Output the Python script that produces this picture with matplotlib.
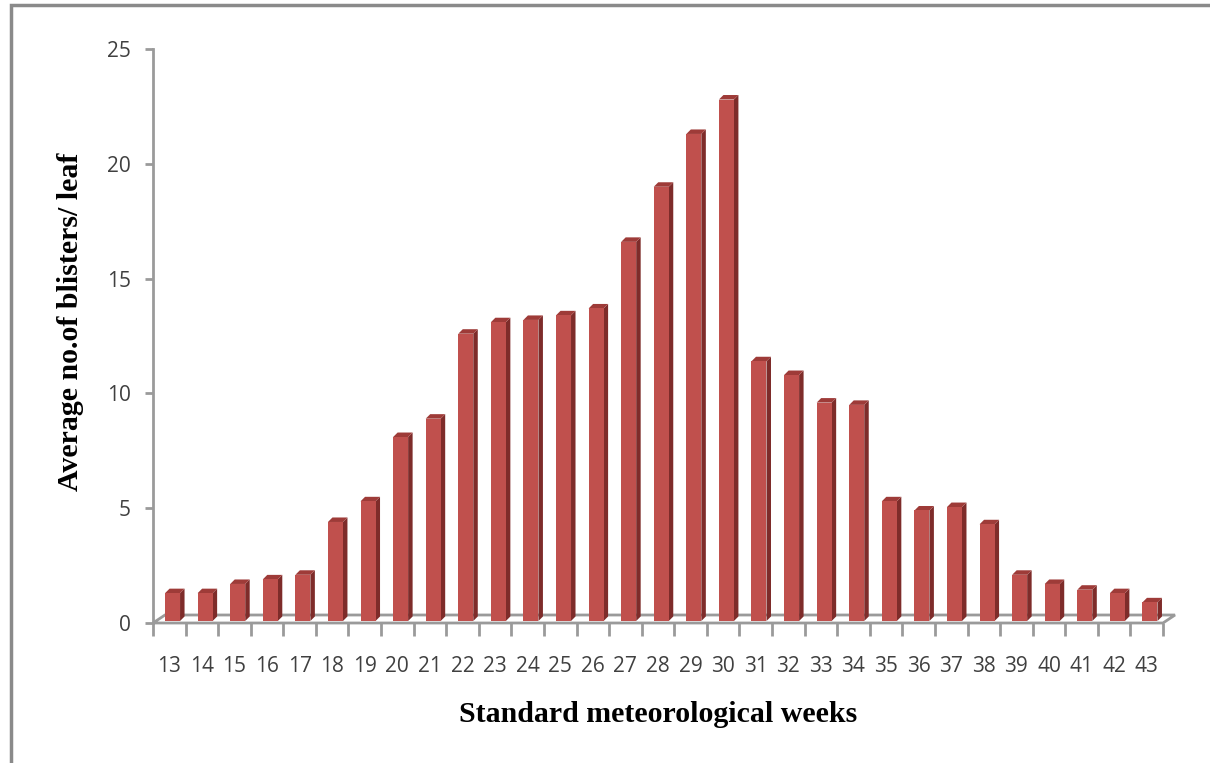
import matplotlib
matplotlib.use("Agg")
import matplotlib.pyplot as plt
from matplotlib.patches import Polygon, Rectangle
import numpy as np

weeks = list(range(13, 44))
blisters = [1.3, 1.3, 1.7, 1.9, 2.1, 4.4, 5.3, 8.1, 8.9, 12.6, 13.1, 13.2, 13.4,
            13.7, 16.6, 19.0, 21.3, 22.8, 11.4, 10.8, 9.6, 9.5, 5.3, 4.9, 5.05,
            4.3, 2.1, 1.7, 1.45, 1.3, 0.9]
y_ticks = [0, 5, 10, 15, 20, 25]
x_label = "Standard meteorological weeks"
y_label = "Average no.of blisters/ leaf"

W, H = 1210, 763
fig = plt.figure(figsize=(W / 100, H / 100), dpi=100)
fig.patch.set_facecolor("white")

# outer frame (left and top visible)
fig.add_artist(Rectangle((10.5 / W, -0.1), 1.2, (H - 4.5) / H + 0.1,
                         transform=fig.transFigure, fill=False,
                         edgecolor="#8a8a8a", linewidth=2.5))

ax_left, ax_right = 153, 1163
y0_px, y25_px = 623, 49
ax = fig.add_axes([ax_left / W, 1 - y0_px / H, (ax_right - ax_left) / W,
                   (y0_px - y25_px) / H])
ax.set_xlim(12.5, 43.5)
ax.set_ylim(0, 25)
ax.patch.set_alpha(0)

px_x = (ax_right - ax_left) / 31.0
px_y = (y0_px - y25_px) / 25.0
dx = 4.5 / px_x   # bar depth in data units
dy = 4.5 / px_y

# floor
fdx = 12.0 / px_x
fdy = 8.0 / px_y
floor = Polygon([(12.5, 0), (43.5, 0), (43.5 + fdx, fdy), (12.5 + fdx, fdy)],
                closed=True, facecolor="white", edgecolor="#9a9a9a",
                linewidth=2.0, clip_on=False, zorder=1)
ax.add_patch(floor)

front_c = "#C0504D"
side_c = "#7E2C2A"
top_c = "#9E3B38"
bw = 15.0 / px_x
base = 2.0 / px_y
xs = np.array(weeks, dtype=float) + 0.1
for x, v in zip(xs, blisters):
    l = x - bw / 2
    r = x + bw / 2
    ax.add_patch(Polygon([(r, base), (r + dx, base + dy), (r + dx, v + dy), (r, v)],
                         closed=True, facecolor=side_c, edgecolor="none",
                         zorder=3, clip_on=False))
    ax.add_patch(Polygon([(l, v), (r, v), (r + dx, v + dy), (l + dx, v + dy)],
                         closed=True, facecolor=top_c, edgecolor="none",
                         zorder=3, clip_on=False))
ax.bar(xs, np.array(blisters) - base, bottom=base, width=bw, color=front_c,
       edgecolor="none", zorder=4)

for s in ["top", "right"]:
    ax.spines[s].set_visible(False)
ax.spines["bottom"].set_visible(False)
ax.spines["left"].set_color("#9a9a9a")
ax.spines["left"].set_linewidth(2.0)

ax.set_yticks(y_ticks)
ax.set_yticklabels([str(t) for t in y_ticks])
ax.tick_params(axis="y", direction="out", length=6, width=2.0, color="#9a9a9a",
               labelsize=15, labelcolor="#404040", pad=10)

# x ticks at category boundaries, labels at centres
ax.set_xticks(np.arange(12.5, 44.0, 1.0))
ax.set_xticklabels([])
ax.tick_params(axis="x", direction="out", length=9, width=2.0, color="#9a9a9a")
ax.set_xticks(weeks, minor=True)
ax.set_xticklabels([str(w) for w in weeks], minor=True)
ax.tick_params(axis="x", which="minor", length=0, labelsize=15,
               labelcolor="#404040", pad=24)
for lab in ax.get_xticklabels(minor=True) + ax.get_yticklabels():
    lab.set_fontfamily("Open Sans")

fig.text(658 / W, 1 - 714 / H, x_label, fontfamily="Liberation Serif",
         fontweight="bold", fontsize=21.5, ha="center", va="center")
fig.text(71 / W, 1 - 322 / H, y_label, fontfamily="Liberation Serif",
         fontweight="bold", fontsize=21.5, ha="center", va="center",
         rotation=90)

fig.savefig("out.png", dpi=100)
